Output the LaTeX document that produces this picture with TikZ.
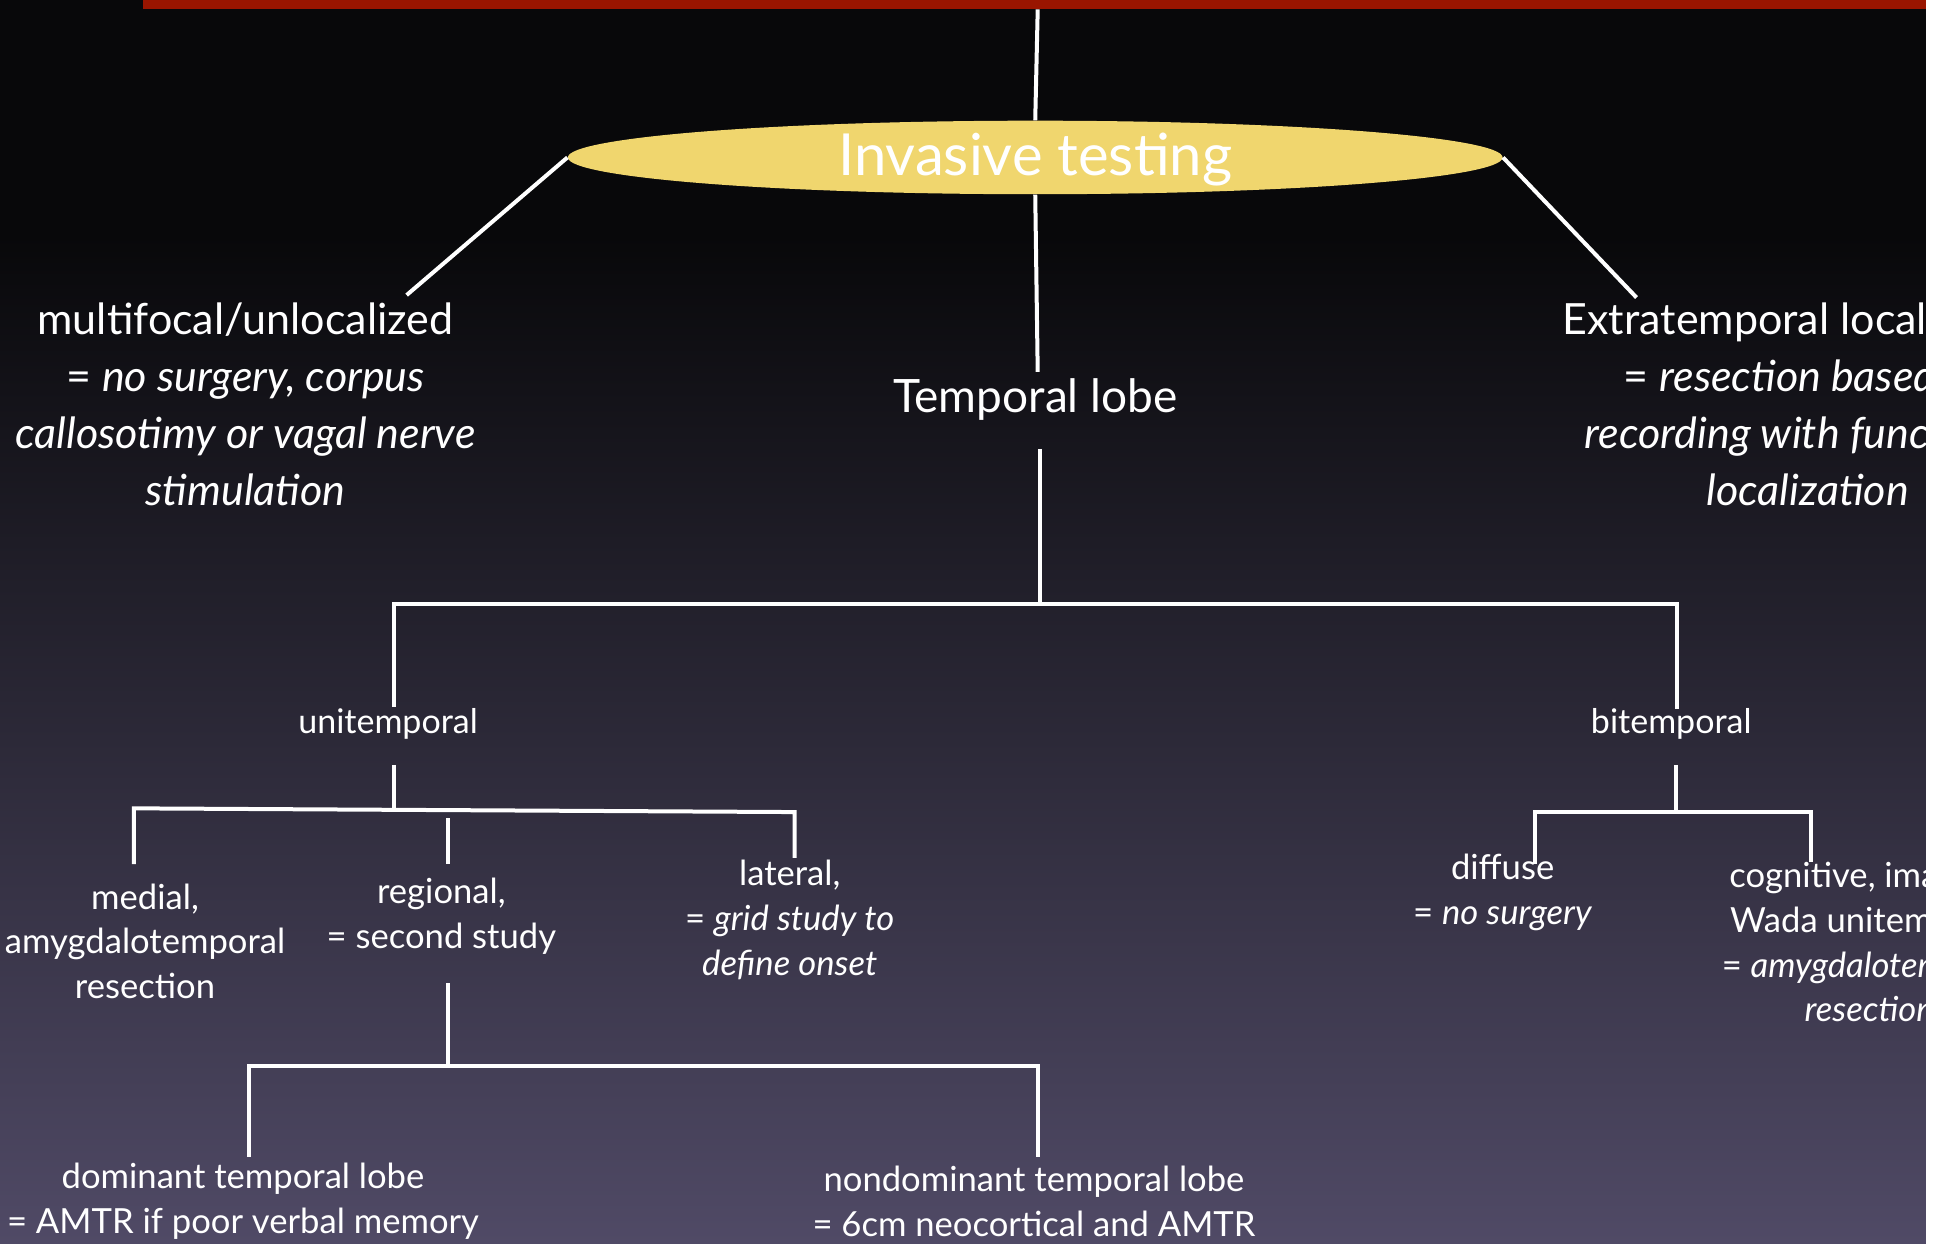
\documentclass[tikz,border=0pt]{standalone}
\usepackage{fontspec}
\setmainfont{Lato}
\usetikzlibrary{shapes.geometric}
\definecolor{barred}{RGB}{153,21,0}
\definecolor{bgbot}{RGB}{80,74,102}
\definecolor{bgtop}{RGB}{8,8,10}
\definecolor{ovalgold}{RGB}{240,214,110}
\tikzset{
  conn/.style={draw=white, line width=2pt},
  big/.style={text=white, align=center, font=\fontsize{21.5}{28.5}\selectfont, inner sep=0pt},
  mid/.style={text=white, align=center, font=\fontsize{17}{22.3}\selectfont, inner sep=0pt},
  small/.style={text=white, align=center, font=\fontsize{17.3}{22.3}\selectfont, inner sep=0pt},
}
\begin{document}
\begin{tikzpicture}[x=0.6199pt, y=-0.6199pt]
\useasboundingbox (0,0) rectangle (1568,1003);
% background
\fill[bgtop] (0,0) rectangle (1568,1003);
\shade[top color=bgtop, bottom color=bgbot] (0,190) rectangle (1568,1003);
\fill[barred] (115,0) rectangle (1568,7.5);
\fill[white] (1553.5,0) rectangle (1568,1003);

\begin{scope}
\clip (0,0) rectangle (1553.5,1003);
% nodes
\coordinate (topc) at (837,7.5);
\node[ellipse, fill=ovalgold, minimum width=467.4pt, minimum height=36.6pt, inner sep=0pt,
      text height=22pt, text depth=4pt,
      text=white, font=\fontsize{29}{32}\selectfont] (inv) at (835,127) {Invasive testing};

\node[big] (multi) at (198,326) {multifocal/unlocalized\\= \textit{no surgery, corpus}\\\textit{callosotimy or vagal nerve}\\\textit{stimulation}};
\node[big, font=\fontsize{23}{28.5}\selectfont] (tl) at (835,322) {Temporal lobe};
\node[big] (extra) at (1458,326) {Extratemporal localization\\= \textit{resection based on}\\\textit{recording with functional}\\\textit{localization}};

\node[mid] (uni) at (313,584) {unitemporal};
\node[mid] (bi) at (1348,584) {bitemporal};

\node[small] (medial) at (117,759) {medial,\\amygdalotemporal\\resection};
\node[small] (regional) at (356,739) {regional,\\= second study};
\node[small] (lateral) at (637,742) {lateral,\\= \textit{grid study to}\\\textit{define onset}};

\node[small] (diffuse) at (1212,720) {diffuse\\= \textit{no surgery}};
\node[small] (cog) at (1508,760) {cognitive, imaging,\\Wada unitemporal\\= \textit{amygdalotemporal}\\\textit{resection}};

\node[small] (dom) at (196,969) {dominant temporal lobe\\= AMTR if poor verbal memory};
\node[small] (nondom) at (834,969) {nondominant temporal lobe\\= 6cm neocortical and AMTR};

% connector end points
\coordinate (mfend) at (328,238);
\coordinate (exend) at (1320,240);
\coordinate (tltop) at (837,300);
\coordinate (tlbot) at (839,362);
\coordinate (j1) at (839,487);
\coordinate (j1l) at (318,487);
\coordinate (j1r) at (1353,487);
\coordinate (unitop) at (318,570);
\coordinate (bitop) at (1353,572);
\coordinate (unibot) at (318,617);
\coordinate (j2) at (318,652);
\coordinate (j2l) at (108,652);
\coordinate (j2r) at (641,655);
\coordinate (medtop) at (108,697);
\coordinate (lattop) at (641,692);
\coordinate (regtop) at (361,697);
\coordinate (regtop0) at (361,660);
\coordinate (regbot) at (361,793);
\coordinate (j3) at (361,860);
\coordinate (j3l) at (201,860);
\coordinate (j3r) at (837,860);
\coordinate (domtop) at (201,933);
\coordinate (nondomtop) at (837,933);
\coordinate (bibot) at (1352,617);
\coordinate (j4) at (1352,655);
\coordinate (j4l) at (1238,655);
\coordinate (j4r) at (1461,655);
\coordinate (diftop) at (1238,697);
\coordinate (cogtop) at (1461,695);

% connectors
\draw[conn] (topc) -- (inv.north);
\draw[conn] (inv.west) -- (mfend);
\draw[conn] (inv.east) -- (exend);
\draw[conn] (inv.south) -- (tltop);
\draw[conn] (tlbot) -- (j1);
\draw[conn] (unitop) -- (j1l) -- (j1r) -- (bitop);
\draw[conn] (unibot) -- (j2);
\draw[conn] (medtop) -- (j2l) -- (j2r) -- (lattop);
\draw[conn] (regtop0) -- (regtop);
\draw[conn] (regbot) -- (j3);
\draw[conn] (domtop) -- (j3l) -- (j3r) -- (nondomtop);
\draw[conn] (bibot) -- (j4);
\draw[conn] (diftop) -- (j4l) -- (j4r) -- (cogtop);
\end{scope}
\end{tikzpicture}
\end{document}
